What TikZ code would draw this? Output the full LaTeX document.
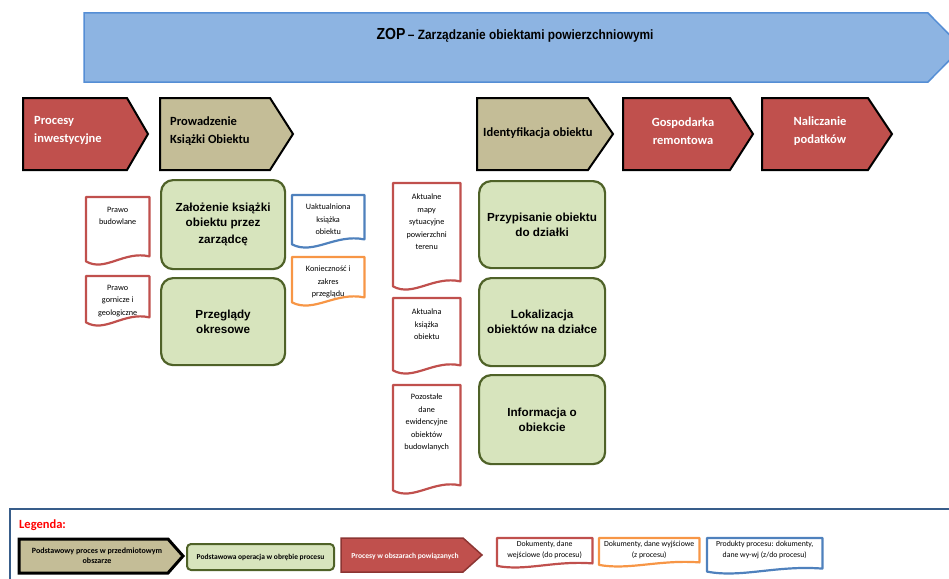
\documentclass[tikz,border=0pt]{standalone}
\usepackage{fontspec}
\setmainfont{Carlito}
\newfontfamily\arialfont{Liberation Sans}
\newfontfamily\narrowfont[FakeStretch=0.88]{Liberation Sans}
\usepackage{xcolor}
\usepackage{tikz}
\usetikzlibrary{positioning, calc}

\definecolor{zopfill}{HTML}{8DB4E2}
\definecolor{zopline}{HTML}{558ED5}
\definecolor{tanproc}{HTML}{C4BD97}
\definecolor{redproc}{HTML}{C0504D}
\definecolor{redline}{HTML}{8C3533}
\definecolor{opfill}{HTML}{D7E4BD}
\definecolor{opline}{HTML}{4F6228}
\definecolor{docred}{HTML}{C0504D}
\definecolor{docblue}{HTML}{4F81BD}
\definecolor{docorange}{HTML}{F79646}
\definecolor{legframe}{HTML}{385D8A}

% pentagon arrow: style, left, top, body end, bottom, tip
\newcommand{\procshape}[6]{%
  \draw[#1] (#2,#3) -- (#4,#3) -- (#6,{(#3+#5)/2}) -- (#4,#5) -- (#2,#5) -- cycle;}

% document outline round a named frame node
\newcommand{\docshape}[3][1]{%
  \draw[docline, draw=#3] (#2.north west) -- (#2.north east)
    -- ($(#2.south east)+(0pt,8pt*#1)$)
    .. controls ($(#2.south west)!0.6!(#2.south east)+(0pt,14pt*#1)$)
    and ($(#2.south west)!0.3!(#2.south east)+(0pt,-8pt*#1)$)
    .. ($(#2.south west)+(0pt,3pt*#1)$) -- cycle;}

\begin{document}
\begin{tikzpicture}[
    x=1pt, y=-1pt,
    every node/.style={inner sep=0pt},
    zoparrow/.style={draw=zopline, fill=zopfill, line width=1.5pt},
    mainproc/.style={draw=black, fill=tanproc, line width=2pt},
    sideproc/.style={draw=black, fill=redproc, line width=2pt},
    arrowtext/.style={font=\bfseries\fontsize{12.5}{18}\selectfont, align=left},
    op/.style={draw=opline, fill=opfill, line width=2.2pt, rounded corners=12pt,
        anchor=north west, align=center, font=\arialfont\bfseries\fontsize{11.7}{15}\selectfont},
    docframe/.style={anchor=north west},
    doctext/.style={font=\fontsize{8.2}{12.4}\selectfont, align=center},
    docline/.style={line width=2.2pt, line join=round},
    legtext/.style={font=\fontsize{7.8}{11}\selectfont, align=center}
]
\useasboundingbox (0,0) rectangle (949,578);

\procshape{zoparrow}{84}{13}{928}{82}{962}
\node[font=\narrowfont\bfseries] (zop) at (515,35)
    {{\fontsize{16}{18}\selectfont ZOP} {\fontsize{13.5}{16}\selectfont – Zarządzanie obiektami powierzchniowymi}};

\procshape{sideproc}{23}{98}{127}{170}{148}
\procshape{mainproc}{160}{98}{270}{170}{293}
\procshape{mainproc}{477}{98}{588}{170}{613}
\procshape{sideproc}{623}{98}{730}{170}{753}
\procshape{sideproc}{762}{98}{868}{170}{892}
\node[arrowtext, text=white, anchor=west] (tInw) at (34,131) {Procesy\\inwestycyjne};
\node[arrowtext, anchor=west] (tKsiazka) at (170,131) {Prowadzenie\\Książki Obiektu};
\node[arrowtext, anchor=west] (tIdent) at (483,133) {Identyfikacja obiektu};
\node[arrowtext, text=white, align=center] (tGosp) at (683,131) {Gospodarka\\remontowa};
\node[arrowtext, text=white, align=center] (tPod) at (820,131) {Naliczanie\\podatków};

\node[op, minimum width=124pt, minimum height=89pt] (oZal) at (160,179) {Założenie książki\\obiektu przez\\[2pt]zarządcę};
\node[op, minimum width=124pt, minimum height=87pt] (oPrz) at (160,277) {Przeglądy\\okresowe};
\node[op, minimum width=126pt, minimum height=87pt] (oDz) at (478,180) {Przypisanie obiektu\\do działki};
\node[op, minimum width=126pt, minimum height=88pt] (oLok) at (478,277) {Lokalizacja\\obiektów na działce};
\node[op, minimum width=126pt, minimum height=89pt] (oInf) at (478,374) {Informacja o\\obiekcie};

\node[docframe, minimum width=63pt, minimum height=67pt] (dBud) at (86,197) {};
\node[doctext, below=10pt of dBud.north] (tBud) {Prawo\\budowlane};
\docshape{dBud}{docred}
\node[docframe, minimum width=63pt, minimum height=49pt] (dGor) at (86,276) {};
\node[doctext, below=9pt of dGor.north] (tGor) {Prawo\\gornicze i\\geologiczne};
\docshape{dGor}{docred}
\node[docframe, minimum width=72pt, minimum height=52pt] (dUakt) at (292,195) {};
\node[doctext, below=9pt of dUakt.north] (tUakt) {Uaktualniona\\książka\\obiektu};
\docshape{dUakt}{docblue}
\node[docframe, minimum width=72pt, minimum height=48pt] (dKon) at (292,257) {};
\node[doctext, below=9pt of dKon.north] (tKon) {Konieczność i\\zakres\\przeglądu};
\docshape{dKon}{docorange}
\node[docframe, minimum width=67pt, minimum height=106pt] (dMapy) at (393,183) {};
\node[doctext, below=11pt of dMapy.north] (tMapy) {Aktualne\\mapy\\sytuacyjne\\powierzchni\\terenu};
\docshape{dMapy}{docred}
\node[docframe, minimum width=67pt, minimum height=75pt] (dKsi) at (393,298) {};
\node[doctext, below=11pt of dKsi.north] (tKsi) {Aktualna\\książka\\obiektu};
\docshape{dKsi}{docred}
\node[docframe, minimum width=67pt, minimum height=108pt] (dPoz) at (393,385) {};
\node[doctext, below=9pt of dPoz.north] (tPoz) {Pozostałe\\dane\\ewidencyjne\\obiektów\\budowlanych};
\docshape{dPoz}{docred}

\draw[draw=legframe, line width=2pt] (10,509) rectangle (975,600);
\node[anchor=west, text={rgb,255:red,255;green,0;blue,0}, font=\bfseries\fontsize{12.5}{15}\selectfont] (leg) at (19,525) {Legenda:};
\procshape{mainproc, line width=3pt}{19}{539}{168}{573}{183}
\node[font=\bfseries\fontsize{8}{10}\selectfont, align=center] (lMain) at (97,556) {Podstawowy proces w przedmiotowym\\obszarze};
\node[draw=opline, fill=opfill, line width=2pt, rounded corners=4pt, anchor=north west,
    minimum width=147pt, minimum height=26pt, font=\bfseries\fontsize{7.5}{9}\selectfont] (lOp) at (186,543)
    {Podstawowa operacja w obrębie procesu};
\procshape{sideproc, draw=redline, line width=1.5pt}{341}{538}{463}{572}{482}
\node[text=white, font=\bfseries\fontsize{7.6}{9}\selectfont] (lSide) at (405,556) {Procesy w obszarach powiązanych};

\node[docframe, minimum width=95pt, minimum height=29pt] (lDocIn) at (497,538) {};
\node[legtext, below=3pt of lDocIn.north] (tDocIn) {Dokumenty, dane\\wejściowe (do procesu)};
\docshape[0.5]{lDocIn}{docred}
\node[docframe, minimum width=100pt, minimum height=28pt] (lDocOut) at (599,538) {};
\node[legtext, below=3pt of lDocOut.north] (tDocOut) {Dokumenty, dane wyjściowe\\(z procesu)};
\docshape[0.5]{lDocOut}{docorange}
\node[docframe, minimum width=115pt, minimum height=35pt] (lDocProd) at (707,538) {};
\node[legtext, below=3pt of lDocProd.north] (tDocProd) {Produkty procesu: dokumenty,\\dane wy-wj (z/do procesu)};
\docshape[0.6]{lDocProd}{docblue}
\end{tikzpicture}
\end{document}
